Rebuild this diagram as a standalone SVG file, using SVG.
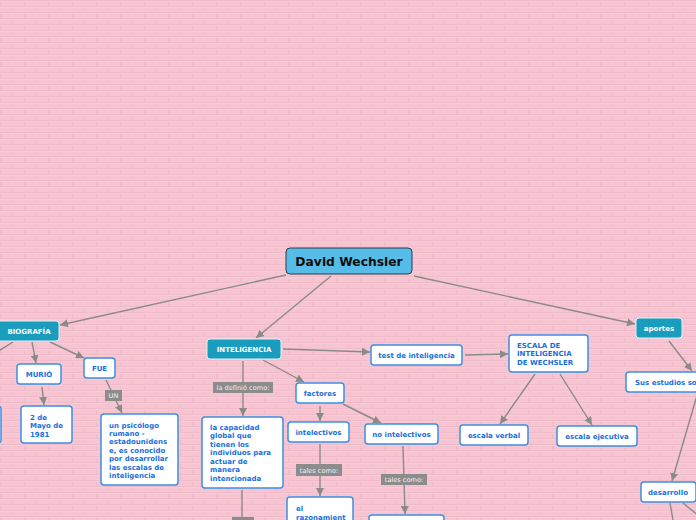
<svg xmlns="http://www.w3.org/2000/svg" width="696" height="520" viewBox="0 0 696 520">
<defs>
<pattern id="brick" width="24" height="12" patternUnits="userSpaceOnUse">
<rect width="24" height="12" fill="#f6c5d1"/>
<path d="M0,0.5H24M0,6.5H24M0.5,0V6M12.5,6V12" stroke="#f1bccA" stroke-width="1" fill="none"/>
<path d="M0,1.5H24M0,7.5H24" stroke="#f8ccd7" stroke-width="1" fill="none"/>
</pattern>
<marker id="arr" markerWidth="9" markerHeight="8" refX="8" refY="4" orient="auto" markerUnits="userSpaceOnUse">
<path d="M0,0 L8,4 L0,8 z" fill="#8a8a8a"/>
</marker>
<style>
.c{stroke:#8a8a8a;stroke-width:1.4;fill:none}
.a{marker-end:url(#arr)}
.w{fill:#ffffff;stroke:#3d8fe3;stroke-width:1.5}
.t{fill:#1a9cbd;stroke:#d9f1f7;stroke-width:1}
.wt{font-family:"DejaVu Sans",Verdana,sans-serif;font-weight:bold;font-size:7px;fill:#1a6fdc}
.tt{font-family:"DejaVu Sans",Verdana,sans-serif;font-weight:bold;font-size:7px;fill:#ffffff}
.lb{fill:#8c8c8c}
.lt{font-family:"DejaVu Sans",Verdana,sans-serif;font-size:6.6px;fill:#f2f2f2}
.m{text-anchor:middle}
</style>
</defs>
<rect width="696" height="520" fill="url(#brick)"/>

<g id="connectors">
<line class="c a" x1="286" y1="275" x2="60" y2="325"/>
<line class="c a" x1="331" y1="276" x2="256" y2="338"/>
<line class="c a" x1="414" y1="276" x2="635" y2="324"/>
<line class="c" x1="13" y1="342" x2="-3" y2="352"/>
<line class="c a" x1="32" y1="342" x2="36" y2="363"/>
<line class="c a" x1="50" y1="342" x2="84" y2="358"/>
<line class="c a" x1="42" y1="387" x2="44" y2="405"/>
<line class="c a" x1="106" y1="380" x2="122" y2="413"/>
<line class="c a" x1="243" y1="361" x2="243" y2="416"/>
<line class="c a" x1="263" y1="360" x2="304" y2="382"/>
<line class="c a" x1="283" y1="349" x2="370" y2="352"/>
<line class="c a" x1="320" y1="406" x2="320" y2="421"/>
<line class="c a" x1="343" y1="404" x2="381" y2="423"/>
<line class="c a" x1="320" y1="444" x2="320" y2="496"/>
<line class="c a" x1="403" y1="446" x2="405" y2="514"/>
<line class="c a" x1="465" y1="355" x2="508" y2="354"/>
<line class="c a" x1="535" y1="374" x2="500" y2="424"/>
<line class="c a" x1="560" y1="374" x2="592" y2="425"/>
<line class="c a" x1="669" y1="341" x2="692" y2="371"/>
<line class="c a" x1="700" y1="385" x2="672" y2="481"/>
<line class="c" x1="242" y1="490" x2="242" y2="520"/>
<line class="c" x1="670" y1="503" x2="673" y2="520"/>
<line class="c" x1="683" y1="503" x2="700" y2="517"/>
</g>

<g id="lbl-un"><rect class="lb" x="105" y="390" width="17" height="11"/><text class="lt m" x="113.5" y="398">UN</text></g>
<g id="lbl-definio"><rect class="lb" x="213" y="382" width="60" height="11"/><text class="lt m" x="243" y="390">la definió como:</text></g>
<g id="lbl-tales1"><rect class="lb" x="296" y="464" width="46" height="12"/><text class="lt m" x="319" y="472.5">tales como:</text></g>
<g id="lbl-tales2"><rect class="lb" x="381" y="474" width="46" height="11"/><text class="lt m" x="404" y="482">tales como:</text></g>
<g id="lbl-bottom"><rect class="lb" x="232" y="517" width="22" height="10"/></g>

<g id="n-central"><rect x="286" y="248" width="126" height="26" rx="4" fill="#56bde9" stroke="#2b3a48" stroke-width="1"/><text x="349" y="265.5" class="m" font-family="'DejaVu Sans',Verdana,sans-serif" font-weight="bold" font-size="12.3" fill="#0d0d0d">David Wechsler</text></g>

<g id="n-biografia"><rect class="t" x="-3" y="321" width="62" height="20" rx="3"/><text class="tt m" x="29" y="333.5">BIOGRAFÍA</text></g>
<g id="n-leftcut"><rect class="w" x="-40" y="406" width="41" height="37" rx="3"/></g>
<g id="n-murio"><rect class="w" x="17" y="364" width="44" height="20" rx="3"/><text class="wt m" x="39" y="376.5">MURIÓ</text></g>
<g id="n-fue"><rect class="w" x="84" y="358" width="31" height="20" rx="3"/><text class="wt m" x="99.5" y="370.5">FUE</text></g>
<g id="n-fecha"><rect class="w" x="21" y="406" width="51" height="37" rx="3"/><text class="wt" x="30"><tspan x="30" y="419.5">2 de</tspan><tspan x="30" y="428">Mayo de</tspan><tspan x="30" y="436.5">1981</tspan></text></g>
<g id="n-psicologo"><rect class="w" x="101" y="414" width="77" height="71" rx="3"/><text class="wt"><tspan x="109" y="427.5">un psicólogo</tspan><tspan x="109" y="435.9">rumano -</tspan><tspan x="109" y="444.3">estadounidens</tspan><tspan x="109" y="452.7">e, es conocido</tspan><tspan x="109" y="461.1">por desarrollar</tspan><tspan x="109" y="469.5">las escalas de</tspan><tspan x="109" y="477.9">inteligencia</tspan></text></g>

<g id="n-inteligencia"><rect class="t" x="207" y="339" width="74" height="20" rx="3"/><text class="tt m" x="244" y="351.5">INTELIGENCIA</text></g>
<g id="n-capacidad"><rect class="w" x="202" y="417" width="81" height="71" rx="3"/><text class="wt"><tspan x="210" y="429.5">la capacidad</tspan><tspan x="210" y="438">global que</tspan><tspan x="210" y="446.5">tienen los</tspan><tspan x="210" y="455">individuos para</tspan><tspan x="210" y="463.5">actuar de</tspan><tspan x="210" y="472">manera</tspan><tspan x="210" y="480.5">intencionada</tspan></text></g>
<g id="n-factores"><rect class="w" x="296" y="383" width="48" height="20" rx="3"/><text class="wt m" x="320" y="395.5">factores</text></g>
<g id="n-intelectivos"><rect class="w" x="288" y="422" width="61" height="20" rx="3"/><text class="wt m" x="318.5" y="434.5">intelectivos</text></g>
<g id="n-nointelectivos"><rect class="w" x="365" y="424" width="73" height="20" rx="3"/><text class="wt m" x="401.5" y="436.5">no intelectivos</text></g>
<g id="n-razonamiento"><rect class="w" x="287" y="497" width="66" height="34" rx="3"/><text class="wt"><tspan x="296" y="511">el</tspan><tspan x="296" y="519.5">razonamient</tspan></text></g>
<g id="n-bottombox"><rect class="w" x="369" y="515" width="75" height="20" rx="3"/></g>

<g id="n-test"><rect class="w" x="371" y="345" width="91" height="20" rx="3"/><text class="wt m" x="416.5" y="357.5">test de inteligencia</text></g>
<g id="n-escala"><rect class="w" x="509" y="335" width="79" height="37" rx="3"/><text class="wt"><tspan x="517" y="347.5">ESCALA DE</tspan><tspan x="517" y="356">INTELIGENCIA</tspan><tspan x="517" y="364.5">DE WECHSLER</tspan></text></g>
<g id="n-verbal"><rect class="w" x="460" y="425" width="68" height="20" rx="3"/><text class="wt m" x="494" y="437.5">escala verbal</text></g>
<g id="n-ejecutiva"><rect class="w" x="557" y="426" width="80" height="20" rx="3"/><text class="wt m" x="597" y="438.5">escala ejecutiva</text></g>

<g id="n-aportes"><rect class="t" x="636" y="318" width="46" height="20" rx="3"/><text class="tt m" x="659" y="330.5">aportes</text></g>
<g id="n-estudios"><rect class="w" x="626" y="372" width="90" height="20" rx="3"/><text class="wt" x="635" y="384.5">Sus estudios so</text></g>
<g id="n-desarrollo"><rect class="w" x="641" y="482" width="55" height="20" rx="3"/><text class="wt m" x="668" y="494.5">desarrollo</text></g>
</svg>
